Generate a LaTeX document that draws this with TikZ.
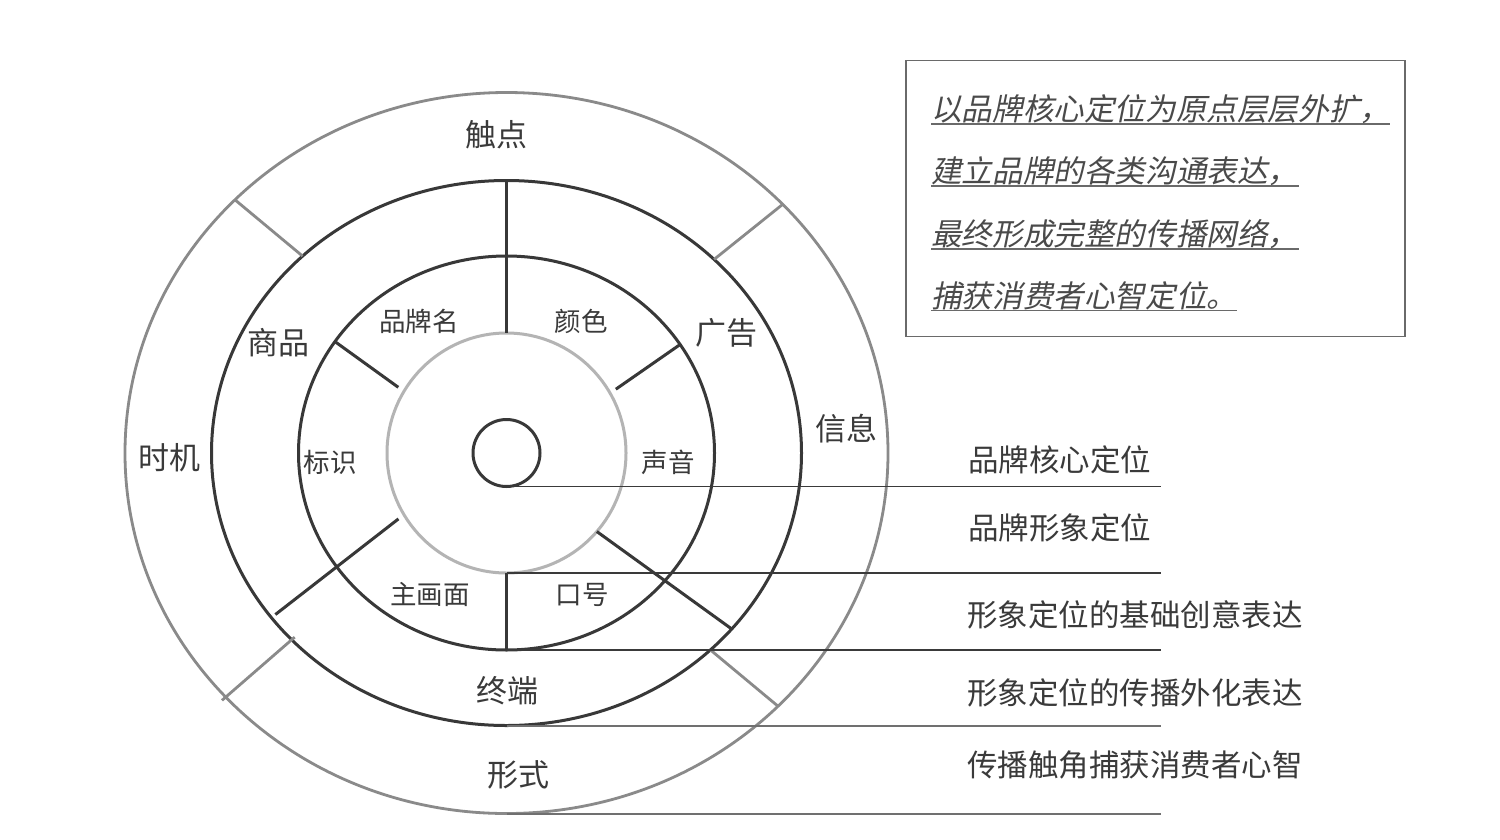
\documentclass[tikz,border=0pt]{standalone}
\usepackage{fontspec}
\usetikzlibrary{shapes.geometric}
\newfontfamily\cjk{Noto Sans CJK SC}
\newfontfamily\cjkit[FakeSlant=0.2]{Noto Sans CJK SC}
\definecolor{dk}{HTML}{383838}
\definecolor{gy}{HTML}{8A8A8A}
\definecolor{lg}{HTML}{B4B4B4}
\definecolor{ink}{HTML}{3A3A3A}
\definecolor{ld}{HTML}{3A3A3A}
\definecolor{ldb}{HTML}{707070}
\definecolor{nt}{HTML}{4A4A4A}
\definecolor{bx}{HTML}{6A6A6A}
\begin{document}
\begin{tikzpicture}[x=1pt,y=-1pt,
  ring/.style={ellipse,draw,inner sep=0pt,outer sep=0pt,line width=3pt},
  dkline/.style={draw=dk,line width=3pt},
  gyline/.style={draw=gy,line width=2.8pt},
  leader/.style={draw=ld,line width=1.6pt},
  leaderb/.style={draw=ldb,line width=2pt},
  lblbig/.style={font=\cjk\fontsize{31}{36}\selectfont,text=ink,inner sep=0pt},
  lblsmall/.style={font=\cjk\fontsize{26.5}{30}\selectfont,text=ink,inner sep=0pt},
  sidelbl/.style={font=\cjk\fontsize{30.5}{34}\selectfont,text=ink,inner sep=0pt,anchor=west},
  noteline/.style={font=\cjkit\fontsize{30.6}{34}\selectfont,text=nt,inner sep=0pt,anchor=west},
  uline/.style={draw=bx,line width=1.8pt},
]
\fill[white] (0,0) rectangle (1500,839);
\useasboundingbox (0,0) rectangle (1500,839);

% rings
\node[ring,draw=gy,line width=2.8pt,minimum width=763pt,minimum height=721pt] (outer) at (506.5,453) {};
\node[ring,draw=dk,minimum width=590pt,minimum height=545pt] (mid) at (506.5,453) {};
\node[ring,draw=dk,minimum width=416pt,minimum height=394pt] (img) at (506.5,453) {};
\node[ring,draw=lg,minimum width=239pt,minimum height=240pt] (inner) at (506.5,453) {};
\node[ring,draw=dk,minimum width=67pt,minimum height=67pt] (core) at (506.5,453) {};

% dark dividers
\draw[dkline] (mid.90) -- (inner.90);
\draw[dkline] (inner.270) -- (img.270);
\draw[dkline,shorten <=7pt] (inner.149.3) -- (img.147.9);
\draw[dkline,shorten <=7pt] (inner.30.7) -- (img.32);
\draw[dkline,shorten <=7pt,shorten >=5pt] (inner.211) -- (mid.215.5);
\draw[dkline] (inner.319) -- (mid.322.5);

% gray dividers
\draw[gyline] (mid.136.6) -- (outer.137.5);
\draw[gyline] (mid.43.4) -- (outer.42.75);
\draw[gyline] (mid.316.3) -- (outer.317.4);
\draw[gyline,shorten <=-4pt,shorten >=-5pt] (mid.221.75) -- (outer.221.5);

% leader lines
\coordinate (ex) at (1160.5,0);
\draw[leader] (core.south) -- (core.south -| ex);
\draw[leader] (inner.south) -- (inner.south -| ex);
\draw[leader] (img.south) -- (img.south -| ex);
\draw[leaderb] (mid.south) -- (mid.south -| ex);
\draw[leaderb] (outer.south) -- (outer.south -| ex);

% ring labels
\node[lblbig] (tchd) at (496,135) {触点};
\node[lblbig] (shp) at (278,343) {商品};
\node[lblbig] (gg) at (726,333) {广告};
\node[lblbig] (xx) at (846,429) {信息};
\node[lblbig] (sj) at (169,458) {时机};
\node[lblbig] (zd) at (507,691) {终端};
\node[lblbig] (xs) at (518,775) {形式};

\node[lblsmall] (ppm) at (419,321) {品牌名};
\node[lblsmall] (ys) at (581,321) {颜色};
\node[lblsmall] (bs) at (330,462) {标识};
\node[lblsmall] (sy) at (668,462) {声音};
\node[lblsmall] (zhm) at (430,594) {主画面};
\node[lblsmall] (kh) at (582,595) {口号};

% side labels
\node[sidelbl] (r1) at (968,460) {品牌核心定位};
\node[sidelbl] (r2) at (968,528) {品牌形象定位};
\node[sidelbl] (r3) at (967,615) {形象定位的基础创意表达};
\node[sidelbl] (r4) at (967,693) {形象定位的传播外化表达};
\node[sidelbl] (r5) at (967,765) {传播触角捕获消费者心智};

% note box
\node[draw=bx,line width=1.8pt,minimum width=499pt,minimum height=276pt,inner sep=0pt] (box) at (1155.5,198.5) {};
\node[noteline] (l1) at (931,109) {以品牌核心定位为原点层层外扩，};
\node[noteline] (l2) at (931,171.5) {建立品牌的各类沟通表达，};
\node[noteline] (l3) at (931,234) {最终形成完整的传播网络，};
\node[noteline] (l4) at (931,296) {捕获消费者心智定位。};
\draw[uline] (l1.south west) -- (l1.south east);
\draw[uline] (l2.south west) -- (l2.south east);
\draw[uline] (l3.south west) -- (l3.south east);
\draw[uline] (l4.south west) -- (l4.south east);
\end{tikzpicture}
\end{document}
